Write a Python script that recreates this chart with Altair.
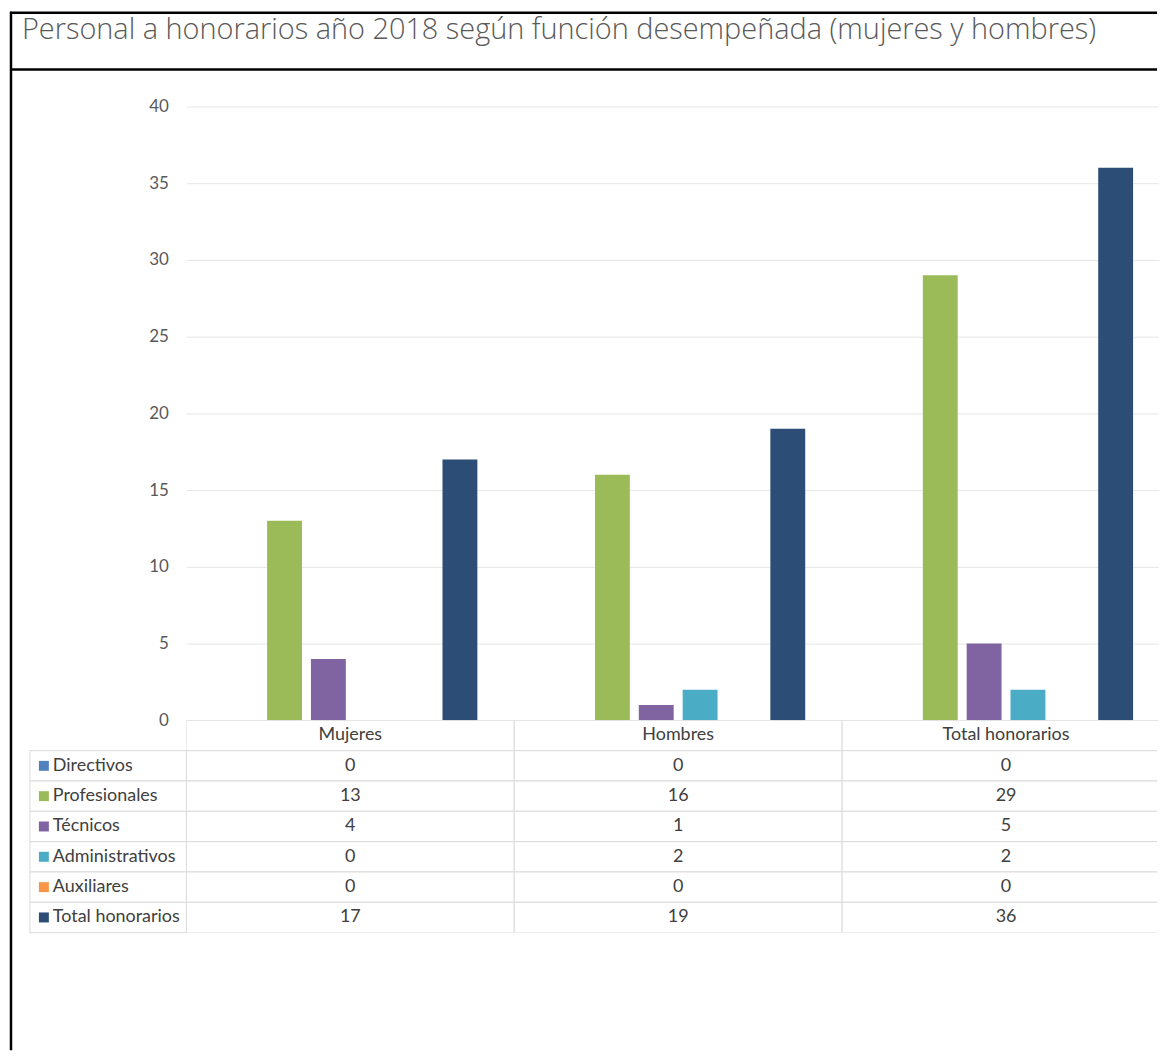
import altair as alt
import pandas as pd

# ---------------- data ----------------
TITLE = "Personal a honorarios año 2018 según función desempeñada (mujeres y hombres)"
categories = ["Mujeres", "Hombres", "Total honorarios"]
series = ["Directivos", "Profesionales", "Técnicos", "Administrativos", "Auxiliares", "Total honorarios"]
mujeres = [0, 13, 4, 0, 0, 17]
hombres = [0, 16, 1, 2, 0, 19]
total_honorarios = [0, 29, 5, 2, 0, 36]
colors = ["#4F81BD", "#9BBB59", "#8064A2", "#4BACC6", "#F79646", "#2C4D75"]
y_ticks = [0, 5, 10, 15, 20, 25, 30, 35, 40]

HEADER_KEY = "encabezado"

rows = []
for cat, vals in zip(categories, [mujeres, hombres, total_honorarios]):
    for s, v in zip(series, vals):
        rows.append({"grupo": cat, "funcion": s, "valor": v})
df = pd.DataFrame(rows)
header_df = pd.DataFrame({"grupo": categories, "funcion": [HEADER_KEY] * len(categories)})
legend_df = pd.DataFrame({"funcion": series})
one = pd.DataFrame({"k": [0]})

# ---------------- style ----------------
FONT = "Lato"
TITLE_FONT = "Open Sans"
PLOT_W = 974          # visible plot width
BAND_RANGE = 987      # 3 groups of 329 px (last one runs past the page edge)
BAR_H = 616
ROW_H = 30.43
TABLE_H = ROW_H * (len(series) + 1)
GRID = "#e6e6e6"
LINE = "#dadada"
TEXT = "#404040"
AXIS_TEXT = "#595959"

x_scale = alt.Scale(domain=categories, range=[0, BAND_RANGE], paddingInner=0, paddingOuter=0)
color_scale = alt.Scale(domain=series, range=colors)

bars = alt.Chart(df).mark_bar().encode(
    x=alt.X("grupo:N", scale=x_scale, sort=categories, axis=None),
    xOffset=alt.XOffset("funcion:N", sort=series,
                        scale=alt.Scale(domain=series, paddingInner=0.2045, paddingOuter=0.841)),
    y=alt.Y(
        "valor:Q", scale=alt.Scale(domain=[0, 40], nice=False),
        axis=alt.Axis(title=None, values=y_ticks, grid=True, gridColor=GRID, domain=False,
                      ticks=False, labelPadding=18, labelFont=FONT, labelFontSize=17,
                      labelColor=AXIS_TEXT),
    ),
    color=alt.Color("funcion:N", scale=color_scale, legend=None),
)

# document frame + title (decorations)
frame_left = alt.Chart(one).mark_rule(color="black", strokeWidth=2.5).encode(
    x=alt.value(-176), y=alt.value(-95), y2=alt.value(947))
frame_top = alt.Chart(one).mark_rule(color="black", strokeWidth=2.5).encode(
    x=alt.value(-177), x2=alt.value(PLOT_W), y=alt.value(-94))
frame_mid = alt.Chart(one).mark_rule(color="black", strokeWidth=2.5).encode(
    x=alt.value(-177), x2=alt.value(PLOT_W), y=alt.value(-37))
title = alt.Chart(one).mark_text(
    text=TITLE, align="left", baseline="alphabetic", font=TITLE_FONT, fontSize=29,
    fontWeight=300, color=AXIS_TEXT,
).encode(x=alt.value(-165), y=alt.value(-68))

top = alt.layer(bars, frame_left, frame_top, frame_mid, title).properties(width=PLOT_W, height=BAR_H)

# ---------------- data table ----------------
table_x = alt.X("grupo:N", scale=x_scale, sort=categories, axis=None)
table_y = alt.Y("funcion:N",
                scale=alt.Scale(domain=[HEADER_KEY] + series, paddingInner=0, paddingOuter=0),
                axis=None)

header_cells = alt.Chart(header_df).mark_rect(fill="white", stroke=LINE, strokeWidth=1, clip=True).encode(
    x=table_x, y=table_y)
header_txt = alt.Chart(header_df).mark_text(font=FONT, fontSize=18, color=TEXT).encode(
    x=table_x, y=table_y, text="grupo:N")
cells = alt.Chart(df).mark_rect(fill="white", stroke=LINE, strokeWidth=1, clip=True).encode(
    x=table_x, y=table_y)
values = alt.Chart(df).mark_text(font=FONT, fontSize=18, color=TEXT).encode(
    x=table_x, y=table_y, text="valor:Q")
leg_cells = alt.Chart(legend_df).mark_rect(fill="white", stroke=LINE, strokeWidth=1).encode(
    x=alt.value(-157), x2=alt.value(0), y=table_y)
leg_sq = alt.Chart(legend_df).mark_square(size=100, opacity=1, filled=True).encode(
    x=alt.value(-143), y=table_y, color=alt.Color("funcion:N", scale=color_scale, legend=None))
leg_txt = alt.Chart(legend_df).mark_text(align="left", font=FONT, fontSize=18, color=TEXT).encode(
    x=alt.value(-134), y=table_y, text="funcion:N")

table = alt.layer(header_cells, cells, leg_cells, header_txt, values, leg_sq, leg_txt).properties(
    width=PLOT_W, height=TABLE_H)

chart = (
    alt.vconcat(top, table, spacing=0, bounds="flush")
    .properties(padding=0)
    .configure_view(stroke=None)
)

chart.save("out.html", embed_options={"renderer": "svg", "actions": False})
